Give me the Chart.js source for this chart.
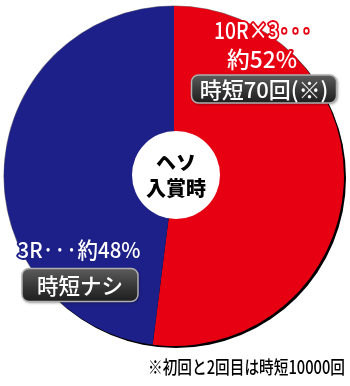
<!DOCTYPE html>
<html>
<head>
<meta charset="utf-8">
<script src="https://cdn.jsdelivr.net/npm/chart.js@4"></script>
<style>
  html, body { margin: 0; padding: 0; background: #fff; }
  #wrap { width: 350px; height: 386px; position: relative; }
</style>
</head>
<body>
<div id="wrap"><canvas id="chart"></canvas></div>
<script>
const categories = ["10R×3", "3R"];
const shares = [52, 48];
const sliceColors = ["#e60012", "#1d2088"];
const rateLabels = [["10R×3···", "約52%"], ["3R···約48%"]];
const boxLabels = ["時短70回(※)", "時短ナシ"];
const centerLines = ["ヘソ", "入賞時"];
const footnote = "※初回と2回目は時短10000回";

const JP = '"Noto Sans CJK JP", "Noto Sans", sans-serif';

function roundBox(ctx, cx, cy, w, h, text, size, maxW) {
  const x = cx - w / 2, y = cy - h / 2;
  ctx.save();
  ctx.shadowColor = "rgba(0,0,0,0.5)";
  ctx.shadowBlur = 3;
  ctx.shadowOffsetX = 1;
  ctx.shadowOffsetY = 1;
  const g = ctx.createLinearGradient(0, y, 0, y + h);
  g.addColorStop(0, "#5c5c5c");
  g.addColorStop(0.5, "#3a3a3a");
  g.addColorStop(1, "#1e1e1e");
  ctx.beginPath();
  ctx.roundRect(x, y, w, h, 7);
  ctx.fillStyle = g;
  ctx.fill();
  ctx.shadowColor = "transparent";
  ctx.lineWidth = 1.5;
  ctx.strokeStyle = "#b0b0b0";
  ctx.stroke();
  ctx.fillStyle = "#fff";
  ctx.font = "500 " + size + "px " + JP;
  ctx.textAlign = "center";
  ctx.textBaseline = "middle";
  ctx.fillText(text, cx, cy + 1, maxW);
  ctx.restore();
}

function outlined(ctx, text, x, y, size, stroke, maxW) {
  ctx.save();
  ctx.font = "500 " + size + "px " + JP;
  ctx.textAlign = "center";
  ctx.textBaseline = "middle";
  ctx.lineJoin = "round";
  ctx.lineWidth = 4;
  ctx.strokeStyle = stroke;
  ctx.strokeText(text, x, y, maxW);
  ctx.fillStyle = "#fff";
  ctx.fillText(text, x, y, maxW);
  ctx.restore();
}

const decorations = {
  id: "decorations",
  beforeDatasetsDraw(chart) {
    const arc = chart.getDatasetMeta(0).data[0];
    const ctx = chart.ctx;
    ctx.save();
    ctx.beginPath();
    ctx.arc(arc.x, arc.y, arc.outerRadius + 0.6, 0, Math.PI * 2);
    ctx.fillStyle = "#888";
    ctx.fill();
    ctx.beginPath();
    ctx.arc(arc.x + 2, arc.y + 2, arc.outerRadius, 0, Math.PI * 2);
    ctx.fillStyle = "#000";
    ctx.fill();
    ctx.restore();
  },
  afterDatasetsDraw(chart) {
    const arc = chart.getDatasetMeta(0).data[0];
    const ctx = chart.ctx;
    ctx.save();
    ctx.beginPath();
    ctx.arc(arc.x + 2, arc.y - 1, 44, 0, Math.PI * 2);
    ctx.fillStyle = "#fff";
    ctx.fill();
    ctx.fillStyle = "#000";
    ctx.font = "900 20px " + JP;
    ctx.textAlign = "center";
    ctx.textBaseline = "middle";
    ctx.fillText(centerLines[0], arc.x + 2, arc.y - 14);
    ctx.fillText(centerLines[1], arc.x + 2, arc.y + 12);
    ctx.restore();

    outlined(ctx, rateLabels[0][0], 263, 30, 23, sliceColors[0], 98);
    outlined(ctx, rateLabels[0][1], 262, 59, 23, sliceColors[0], 70);
    roundBox(ctx, 264, 89, 145, 28, boxLabels[0], 22, 130);

    outlined(ctx, rateLabels[1][0], 79, 250, 22, sliceColors[1], 123);
    roundBox(ctx, 80, 285, 116, 33, boxLabels[1], 22, 86);

    ctx.save();
    ctx.fillStyle = "#000";
    ctx.font = "500 18px " + JP;
    ctx.textAlign = "right";
    ctx.textBaseline = "middle";
    ctx.fillText(footnote, 345, 367, 197);
    ctx.restore();
  }
};

new Chart(document.getElementById("chart"), {
  type: "pie",
  data: {
    labels: categories,
    datasets: [{
      data: shares,
      backgroundColor: sliceColors,
      borderWidth: 0
    }]
  },
  options: {
    responsive: true,
    maintainAspectRatio: false,
    animation: false,
    rotation: 0,
    layout: { padding: { left: 4, right: 6, top: 6, bottom: 40 } },
    plugins: {
      legend: { display: false },
      tooltip: { enabled: false }
    }
  },
  plugins: [decorations]
});
</script>
</body>
</html>
